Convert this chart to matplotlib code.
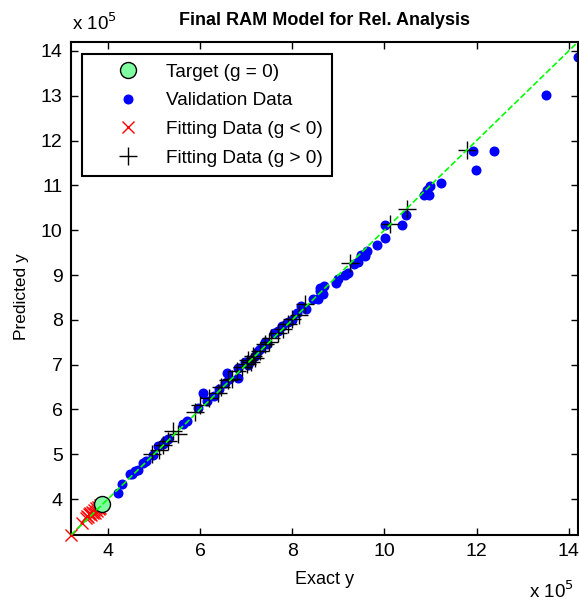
import numpy as np
import matplotlib.pyplot as plt

plt.rcParams['font.family'] = ['Liberation Sans', 'DejaVu Sans']

# all values in units of 1e5
lims = [3.2, 14.2]

target_x = [3.87]
target_y = [3.89]

val_x = [4.22, 4.30, 4.48, 4.52, 4.59, 4.65, 4.76, 4.82, 4.98, 5.09, 5.20, 5.25, 5.30,
         5.63, 5.72, 5.96, 6.07, 6.15, 6.30, 6.42, 6.55, 6.59, 6.62, 6.83, 6.83, 6.98,
         7.05, 7.10, 7.20, 7.25, 7.30, 7.40, 7.45, 7.60, 7.70, 7.78, 7.90, 8.00, 8.10,
         8.20, 8.30, 8.46, 8.57, 8.60, 8.61, 8.67, 8.70, 8.96, 9.00, 9.15, 9.22, 9.33,
         9.42, 9.50, 9.59, 9.63, 9.85, 10.02, 10.02, 10.39, 10.46, 10.85, 10.92, 10.96,
         11.00, 11.22, 11.93, 11.98, 12.37, 13.50, 14.20]
val_y = [4.13, 4.33, 4.56, 4.55, 4.62, 4.66, 4.80, 4.85, 4.98, 5.18, 5.22, 5.30, 5.35,
         5.67, 5.74, 6.03, 6.37, 6.20, 6.30, 6.45, 6.60, 6.81, 6.68, 6.92, 6.70, 7.05,
         7.00, 7.10, 7.20, 7.30, 7.35, 7.50, 7.45, 7.70, 7.75, 7.86, 7.95, 8.00, 8.15,
         8.30, 8.25, 8.46, 8.46, 8.70, 8.64, 8.58, 8.75, 8.82, 8.91, 9.00, 9.04, 9.25,
         9.30, 9.45, 9.42, 9.54, 9.67, 9.83, 10.12, 10.12, 10.34, 10.79, 10.90, 10.79,
         10.99, 11.05, 11.77, 11.34, 11.77, 13.02, 13.87]

neg_x = [3.20, 3.43, 3.52, 3.55, 3.58, 3.60, 3.62, 3.64, 3.66, 3.68, 3.70, 3.72, 3.74,
         3.76, 3.78, 3.80, 3.82, 3.84]
neg_y = [3.20, 3.46, 3.58, 3.62, 3.60, 3.66, 3.70, 3.64, 3.72, 3.68, 3.76, 3.70, 3.80,
         3.74, 3.82, 3.78, 3.86, 3.80]

pos_x = [4.96, 5.10, 5.20, 5.30, 5.41, 5.52, 5.90, 6.00, 6.20, 6.39, 6.45, 6.60, 6.70,
         6.80, 6.90, 7.02, 7.05, 7.10, 7.15, 7.20, 7.30, 7.40, 7.50, 7.55, 7.70, 7.80,
         7.90, 8.00, 8.15, 8.28, 9.26, 10.13, 10.48, 11.80]
pos_y = [5.00, 5.10, 5.20, 5.30, 5.52, 5.45, 5.95, 6.10, 6.25, 6.37, 6.50, 6.65, 6.68,
         6.85, 6.95, 7.01, 7.10, 7.05, 7.20, 7.15, 7.30, 7.45, 7.50, 7.60, 7.70, 7.80,
         7.90, 8.02, 8.10, 8.35, 9.27, 10.14, 10.47, 11.79]

fig = plt.figure(figsize=(5.79, 6.03), dpi=100)
ax = fig.add_axes([0.1226, 0.1128, 0.8756, 0.8176])

ax.plot(lims, lims, '--', color='#00ff00', lw=1.2, zorder=5)
ax.plot(neg_x, neg_y, 'x', color='red', ms=9, mew=1.0, label='Fitting Data (g < 0)',
        zorder=3, clip_on=False)
ax.plot(val_x, val_y, 'o', color='blue', mec='blue', ms=6.2, label='Validation Data',
        zorder=2, clip_on=False)
ax.plot(pos_x, pos_y, '+', color='black', ms=13, mew=1.0, label='Fitting Data (g > 0)',
        zorder=4, clip_on=False)
ax.plot(target_x, target_y, 'o', mfc='#80ffa0', mec='black', ms=11.5, mew=1.0,
        label='Target (g = 0)', zorder=4)

ax.set_xlim(lims)
ax.set_ylim(lims)
ax.set_xticks([4, 6, 8, 10, 12, 14])
ax.set_yticks(range(4, 15))
ax.tick_params(direction='in', top=True, right=True, labelsize=14, length=5, width=1, pad=6)
for s in ax.spines.values():
    s.set_linewidth(1.5)

ax.set_title('Final RAM Model for Rel. Analysis', fontsize=13, fontweight='bold', pad=12)
ax.set_xlabel('Exact y', fontsize=13, labelpad=8)
ax.set_ylabel('Predicted y', fontsize=12.5)
ax.yaxis.set_label_coords(-0.083, 0.483)

fig.text(0.125, 0.95, r'x 10$^5$', fontsize=13.5)
fig.text(0.913, 0.008, r'x 10$^5$', fontsize=13.5)

h, l = ax.get_legend_handles_labels()
order = [3, 1, 0, 2]
leg = ax.legend([h[i] for i in order], [l[i] for i in order], loc='upper left',
                bbox_to_anchor=(0.0217, 0.976), borderaxespad=0, fontsize=13.7,
                fancybox=False, edgecolor='black', framealpha=1, labelspacing=0.6,
                handlelength=3.8, handletextpad=0.1, borderpad=0.5)
leg.get_frame().set_linewidth(1.5)

fig.savefig('out.png', dpi=100)
